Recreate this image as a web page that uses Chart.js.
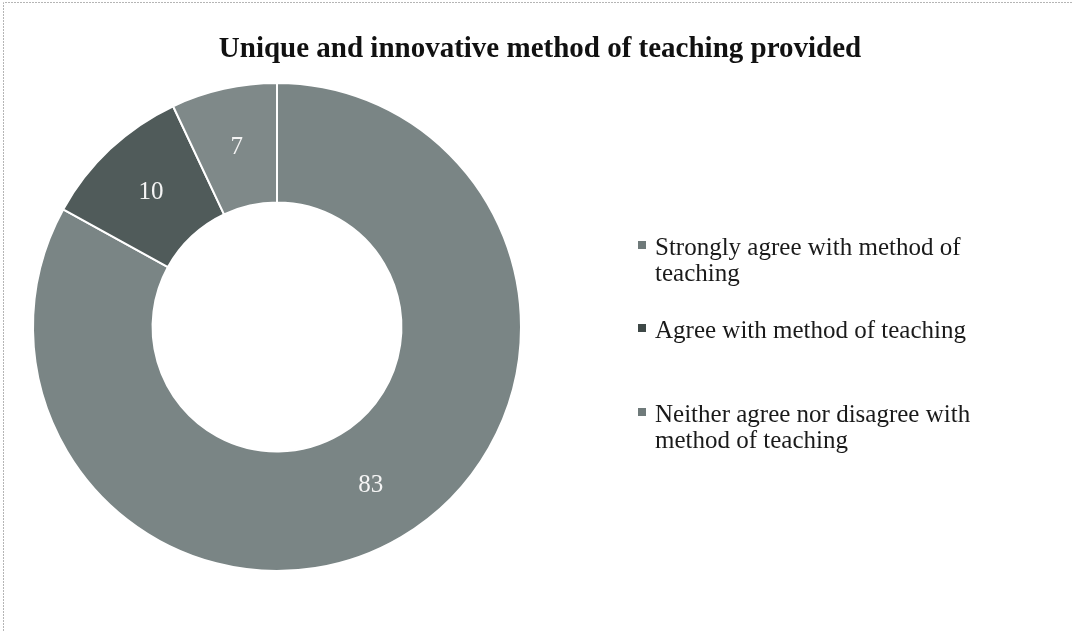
<!DOCTYPE html>
<html>
<head>
<meta charset="utf-8">
<script src="https://cdn.jsdelivr.net/npm/chart.js@4/dist/chart.umd.min.js"></script>
<style>
  html, body { margin: 0; padding: 0; background: #fff; }
  #wrap { width: 1072px; height: 631px; position: relative; }
</style>
</head>
<body>
<div id="wrap"><canvas id="chart"></canvas></div>
<script>
// survey data
const titleText = 'Unique and innovative method of teaching provided';
const categories = [
  ['Strongly agree with method of', 'teaching'],
  ['Agree with method of teaching'],
  ['Neither agree nor disagree with', 'method of teaching']
];
const values = [83, 10, 7];
const sliceColors = ['#7a8585', '#505b5a', '#7f8989'];
const markerColors = ['#6f7a7a', '#3e4847', '#6f7a7a'];

const serif = '"Liberation Serif", "Times New Roman", serif';

// page frame + title
const framePlugin = {
  id: 'frame',
  beforeDraw(chart) {
    const ctx = chart.ctx;
    ctx.save();
    ctx.strokeStyle = '#b5b5b5';
    ctx.lineWidth = 1;
    ctx.setLineDash([2, 1]);
    ctx.beginPath();
    ctx.moveTo(3.5, 631);
    ctx.lineTo(3.5, 2.5);
    ctx.lineTo(1072, 2.5);
    ctx.stroke();
    ctx.setLineDash([]);
    ctx.fillStyle = '#111';
    ctx.font = 'bold 29px ' + serif;
    ctx.textAlign = 'center';
    ctx.textBaseline = 'alphabetic';
    ctx.fillText(titleText, 540, 57);
    ctx.restore();
  }
};

// value labels at the middle of each slice
const valueLabels = {
  id: 'valueLabels',
  afterDatasetsDraw(chart) {
    const ctx = chart.ctx;
    const meta = chart.getDatasetMeta(0);
    ctx.save();
    ctx.fillStyle = '#f4f4f4';
    ctx.font = '25px ' + serif;
    ctx.textAlign = 'center';
    ctx.textBaseline = 'middle';
    meta.data.forEach((arc, i) => {
      const p = arc.tooltipPosition();
      ctx.fillText(String(chart.data.datasets[0].data[i]), p.x, p.y);
    });
    ctx.restore();
  }
};

// legend on the right with wrapped labels
const sideLegend = {
  id: 'sideLegend',
  afterDraw(chart) {
    const ctx = chart.ctx;
    const x = 638, lineH = 26;
    const baselines = [255, 338, 422];
    ctx.save();
    ctx.font = '25px ' + serif;
    ctx.textBaseline = 'alphabetic';
    ctx.textAlign = 'left';
    chart.data.labels.forEach((lines, i) => {
      ctx.fillStyle = markerColors[i];
      ctx.fillRect(x, baselines[i] - 14, 8, 8);
      ctx.fillStyle = '#1a1a1a';
      lines.forEach((t, j) => ctx.fillText(t, x + 17, baselines[i] + j * lineH));
    });
    ctx.restore();
  }
};

new Chart(document.getElementById('chart'), {
  type: 'doughnut',
  data: {
    labels: categories,
    datasets: [{
      data: values,
      backgroundColor: sliceColors,
      borderColor: '#ffffff',
      borderWidth: 2
    }]
  },
  options: {
    responsive: true,
    maintainAspectRatio: false,
    animation: false,
    cutout: '51%',
    layout: { padding: { left: 32, top: 82, right: 550, bottom: 59 } },
    plugins: {
      legend: { display: false },
      tooltip: { enabled: false }
    }
  },
  plugins: [framePlugin, valueLabels, sideLegend]
});
</script>
</body>
</html>
